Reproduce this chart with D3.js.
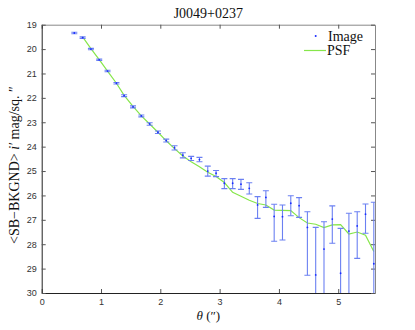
<!DOCTYPE html>
<html>
<head>
<meta charset="utf-8">
<script src="https://cdn.jsdelivr.net/npm/d3@7"></script>
<style>
  body { margin: 0; background: #fff; }
  text { font-family: "Liberation Sans", Arial, sans-serif; }
  .serif { font-family: "Liberation Serif", "DejaVu Serif", serif; }
</style>
</head>
<body>
<div id="chart"></div>
<script>
// radial profile, image points with error bars
var theta = [0.55, 0.69, 0.83, 0.97, 1.11, 1.26, 1.39, 1.54, 1.68, 1.82, 1.96, 2.10, 2.24, 2.38, 2.52, 2.66, 2.80, 2.94, 3.08, 3.22, 3.36, 3.50, 3.64, 3.78, 3.92, 4.06, 4.20, 4.34, 4.48, 4.62, 4.76, 4.90, 5.04, 5.18, 5.32, 5.46, 5.60];
var sbImage = [19.34, 19.53, 20.00, 20.44, 20.90, 21.40, 21.91, 22.37, 22.74, 23.07, 23.41, 23.75, 24.05, 24.35, 24.48, 24.53, 25.00, 25.09, 25.50, 25.50, 25.54, 25.71, 26.39, 26.08, 26.86, 26.87, 26.32, 26.42, 27.31, 29.26, 28.20, 26.97, 29.19, 27.46, 27.25, 26.77, 28.80];
// error toward brighter (up) and fainter (down) magnitudes
var errUp = [0.03, 0.03, 0.03, 0.03, 0.03, 0.03, 0.04, 0.04, 0.04, 0.05, 0.05, 0.06, 0.09, 0.10, 0.08, 0.09, 0.20, 0.11, 0.19, 0.19, 0.20, 0.23, 0.34, 0.27, 0.50, 0.48, 0.31, 0.33, 0.64, 1.95, 1.12, 0.54, 1.84, 0.73, 0.58, 0.42, 2.52];
var errDown = [0.03, 0.03, 0.03, 0.03, 0.03, 0.03, 0.04, 0.04, 0.04, 0.05, 0.05, 0.06, 0.09, 0.11, 0.09, 0.09, 0.21, 0.14, 0.22, 0.22, 0.21, 0.23, 0.55, 0.41, 1.02, 0.96, 0.51, 0.48, 1.96, 5, 5, 0.99, 5, 5, 1.33, 0.78, 5];

// PSF profile
var psfTheta = [0.69, 0.83, 0.97, 1.11, 1.26, 1.39, 1.54, 1.68, 1.82, 1.96, 2.10, 2.24, 2.38, 2.52, 2.66, 2.80, 2.94, 3.08, 3.22, 3.36, 3.50, 3.64, 3.78, 3.92, 4.06, 4.20, 4.34, 4.48, 4.62, 4.76, 4.90, 5.04, 5.18, 5.32, 5.46, 5.60];
var psfMag = [19.50, 19.98, 20.43, 20.90, 21.40, 21.90, 22.35, 22.74, 23.07, 23.41, 23.76, 24.08, 24.38, 24.62, 24.82, 25.05, 25.22, 25.47, 25.87, 26.03, 26.20, 26.33, 26.39, 26.60, 26.61, 26.62, 26.91, 27.13, 27.18, 27.32, 27.21, 27.20, 27.58, 27.50, 27.63, 28.30];

var xTicks = [0, 1, 2, 3, 4, 5];
var yTicks = [19, 20, 21, 22, 23, 24, 25, 26, 27, 28, 29, 30];

var w = 415, h = 330;
var padL = 41.7, padR = 375, padT = 24.7, padB = 293;

var svg = d3.select("#chart").append("svg")
  .attr("width", w).attr("height", h);

var xScale = d3.scaleLinear().domain([0, 5.62]).range([padL, padR]);
var yScale = d3.scaleLinear().domain([19, 30]).range([padT, padB]);

svg.append("clipPath").attr("id", "clip")
  .append("rect").attr("x", padL).attr("y", padT)
  .attr("width", padR - padL).attr("height", padB - padT);

// axes, ticks inside like matlab
var tickLen = 4;
var fmt = d3.format("d");
svg.append("g").attr("transform", "translate(0," + padB + ")")
  .call(d3.axisBottom(xScale).tickValues(xTicks).tickFormat(fmt).tickSizeInner(-tickLen).tickSizeOuter(0).tickPadding(6))
  .call(function(g){ g.select(".domain").attr("stroke", "#222"); });
svg.append("g").attr("transform", "translate(0," + padT + ")")
  .call(d3.axisTop(xScale).tickValues(xTicks).tickSizeInner(-tickLen).tickSizeOuter(0).tickFormat(""))
  .call(function(g){ g.select(".domain").attr("stroke", "#888"); });
svg.append("g").attr("transform", "translate(" + padL + ",0)")
  .call(d3.axisLeft(yScale).tickValues(yTicks).tickFormat(fmt).tickSizeInner(-tickLen).tickSizeOuter(0).tickPadding(5))
  .call(function(g){ g.select(".domain").attr("stroke", "#222"); });
svg.append("g").attr("transform", "translate(" + padR + ",0)")
  .call(d3.axisRight(yScale).tickValues(yTicks).tickSizeInner(-tickLen).tickSizeOuter(0).tickFormat(""))
  .call(function(g){ g.select(".domain").attr("stroke", "#888"); });

svg.selectAll(".tick line").attr("stroke", "#555");
svg.selectAll(".tick text").attr("font-size", 9).attr("fill", "#333")
  .attr("font-family", "Liberation Sans, Arial, sans-serif");

var plot = svg.append("g").attr("clip-path", "url(#clip)");

// psf line
var line = d3.line()
  .x(function(d, i){ return xScale(psfTheta[i]); })
  .y(function(d){ return yScale(d); });
plot.append("path").datum(psfMag)
  .attr("fill", "none").attr("stroke", "#86e64a").attr("stroke-width", 1.2)
  .attr("d", line);

// error bars
var capW = 3;
var bars = plot.selectAll("g.err").data(sbImage).enter().append("g").attr("class", "err")
  .attr("stroke", "#6b80f2").attr("stroke-width", 1.1);
bars.append("line")
  .attr("x1", function(d, i){ return xScale(theta[i]); })
  .attr("x2", function(d, i){ return xScale(theta[i]); })
  .attr("y1", function(d, i){ return yScale(d - errUp[i]); })
  .attr("y2", function(d, i){ return yScale(d + errDown[i]); });
bars.append("line")
  .attr("x1", function(d, i){ return xScale(theta[i]) - capW; })
  .attr("x2", function(d, i){ return xScale(theta[i]) + capW; })
  .attr("y1", function(d, i){ return yScale(d - errUp[i]); })
  .attr("y2", function(d, i){ return yScale(d - errUp[i]); });
bars.append("line")
  .attr("x1", function(d, i){ return xScale(theta[i]) - capW; })
  .attr("x2", function(d, i){ return xScale(theta[i]) + capW; })
  .attr("y1", function(d, i){ return yScale(d + errDown[i]); })
  .attr("y2", function(d, i){ return yScale(d + errDown[i]); });

plot.selectAll("circle.pt").data(sbImage).enter().append("circle").attr("class", "pt")
  .attr("cx", function(d, i){ return xScale(theta[i]); })
  .attr("cy", function(d){ return yScale(d); })
  .attr("r", 0.9).attr("fill", "#1a2cff");

// title and labels
svg.append("text").attr("class", "serif")
  .attr("x", (padL + padR) / 2).attr("y", 18).attr("text-anchor", "middle")
  .attr("font-size", 14).attr("fill", "#111").text("J0049+0237");

svg.append("text").attr("class", "serif")
  .attr("x", (padL + padR) / 2).attr("y", 320).attr("text-anchor", "middle")
  .attr("font-size", 13).attr("fill", "#111")
  .call(function(t){
    t.append("tspan").attr("font-style", "italic").text("θ");
    t.append("tspan").text(" (″)");
  });

var ylab = svg.append("text").attr("class", "serif")
  .attr("transform", "translate(19,165) rotate(-90)").attr("text-anchor", "middle")
  .attr("font-size", 14).attr("fill", "#111");
ylab.append("tspan").text("<SB−BKGND> ");
ylab.append("tspan").attr("font-style", "italic").text("i′");
ylab.append("tspan").text(" mag/sq. ″");

// legend
var leg = svg.append("g");
leg.append("circle").attr("cx", 315.7).attr("cy", 36).attr("r", 1).attr("fill", "#1a2cff");
leg.append("text").attr("class", "serif").attr("x", 328).attr("y", 41)
  .attr("font-size", 14).attr("fill", "#111").text("Image");
leg.append("line").attr("x1", 304).attr("x2", 326).attr("y1", 50.5).attr("y2", 50.5)
  .attr("stroke", "#86e64a").attr("stroke-width", 1.2);
leg.append("text").attr("class", "serif").attr("x", 327).attr("y", 55)
  .attr("font-size", 14).attr("fill", "#111").text("PSF");
</script>
</body>
</html>
